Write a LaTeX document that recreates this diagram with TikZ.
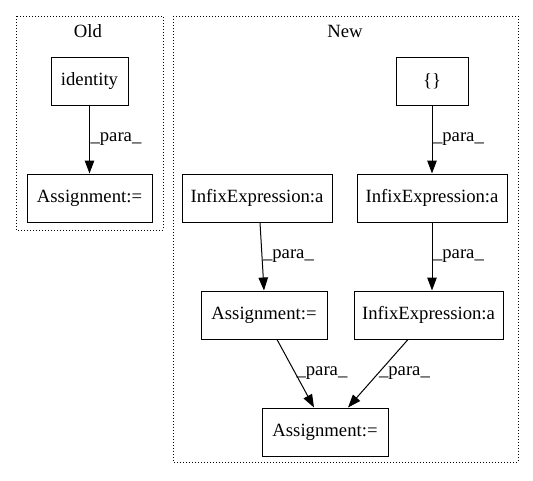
\documentclass[tikz,border=0pt]{standalone}
\usepackage{fontspec}
\setmainfont{Liberation Serif}
\usepackage{tikz}
\usetikzlibrary{arrows.meta,positioning}

\begin{document}
\begin{tikzpicture}[
    x=1pt, y=-1pt,
    font=\fontsize{18.7}{22}\selectfont,
    box/.style={rectangle, draw, line width=1pt, minimum height=48pt, inner sep=0pt},
    cluster/.style={draw, dotted, line width=1pt},
    arrow/.style={-{Triangle[length=13pt,width=9.5pt]}, line width=1pt},
    lbl/.style={right, inner sep=0.5pt},
]
    \useasboundingbox (0,0) rectangle (533,480);

    % Clusters
    \draw[cluster] (16,16) rectangle (163,230);
    \draw[cluster] (173,16) rectangle (518,462);
    \node (old) at (88,31) {Old};
    \node (new) at (345,31) {New};

    % Old
    \node[box, minimum width=77pt] (identity) at (89.5,81) {identity};
    \node[box, minimum width=125pt, below=68pt of identity] (asg_old) {Assignment:=};

    % New
    \node[box, minimum width=72pt] (braces) at (432,81) {\{\}};
    \node[box, minimum width=150pt, below=68pt of braces] (infix_b) {InfixExpression:a};
    \node[box, minimum width=150pt, left=24pt of infix_b] (infix_a) {InfixExpression:a};
    \node[box, minimum width=149pt, below=68pt of infix_b, xshift=-3.5pt] (infix_c) {InfixExpression:a};
    \node[box, minimum width=126pt, below=68pt of infix_a, xshift=7pt] (asg_mid) {Assignment:=};
    \node[box, minimum width=126pt, below=68pt of asg_mid, xshift=61pt] (asg_new) {Assignment:=};

    % Arrows
    \draw[arrow] (identity) -- node[lbl] {\_para\_} (asg_old);
    \draw[arrow] (braces) -- node[lbl] {\_para\_} (infix_b);
    \draw[arrow] (infix_a.south -| 260,0) -- node[lbl] {\_para\_} (asg_mid.north -| 264,0);
    \draw[arrow] (infix_b.south -| 432,0) -- node[lbl] {\_para\_} (infix_c.north -| 432,0);
    \draw[arrow] (asg_mid.south -| 277,0) -- node[lbl] {\_para\_} (asg_new.north -| 314,0);
    \draw[arrow] (infix_c.south -| 408,0) -- node[lbl] {\_para\_} (asg_new.north -| 348,0);
\end{tikzpicture}
\end{document}
